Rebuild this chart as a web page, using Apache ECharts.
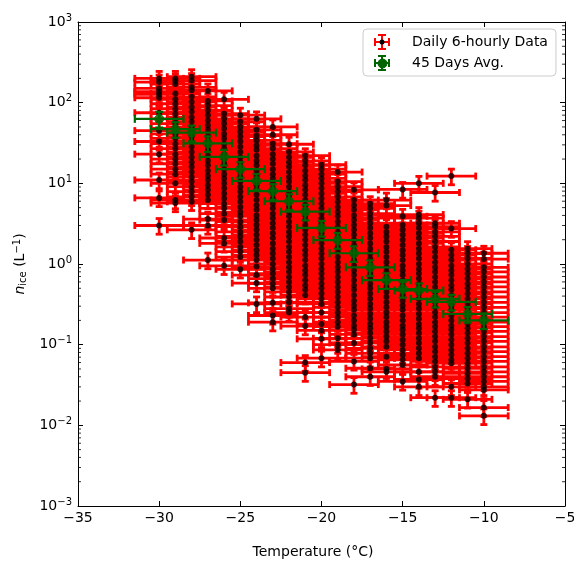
<!DOCTYPE html>
<html>
<head>
<meta charset="utf-8">
<script src="https://cdn.jsdelivr.net/npm/echarts@6/dist/echarts.min.js"></script>
<style>html,body{margin:0;padding:0;background:#fff;overflow:hidden;}#c{width:574px;height:561px;display:block;}</style>
</head>
<body>
<div id="c"></div>
<script>
// ---- data ----
const temperatures = [-30,-29,-28,-27,-26,-25,-24,-23,-22,-21,-20,-19,-18,-17,-16,-15,-14,-13,-12,-11,-10];
const valsM30 = [200, 180, 150, 137, 127, 115, 75, 45, 33, 23, 11, 6.6, 3.0];
const valsM29 = [200, 185, 170, 130, 110, 97, 84, 73, 63, 55, 48, 41, 36, 31, 27, 23, 20, 17.5, 15, 13, 10, 6.2, 5.7];
const valsM28 = [210, 188, 155, 143, 118, 102, 88, 77, 66, 58, 50, 43.5, 38, 33, 28.5, 24.5, 21, 18.3, 16, 13.8, 12, 10.5, 9.1, 7.9, 6.8, 5.9, 2.65];
const valsM27 = [140, 105, 92, 80, 70, 60, 52, 46, 39, 34, 29.5, 26, 22, 19, 16.7, 14.3, 12.4, 11, 9.5, 8.3, 7.2, 6.2, 3.6, 3.0, 1.12];
const valsM26 = [110, 73, 63, 55, 48, 41, 36, 31, 27, 23, 20, 17.5, 15, 13, 11.5, 10, 8.7, 7.5, 6.5, 5.6, 4.9, 4.2, 3.5, 2.1, 1.8, 0.95];
const valsM25 = [70, 58, 50, 43.5, 38, 33, 28.5, 24.5, 21, 18.3, 16, 13.8, 12, 10.5, 9.1, 7.9, 6.8, 5.9, 5.1, 4.4, 3.9, 3.35, 2.9, 2.5, 2.2, 1.9, 1.63, 1.42, 1.22, 0.86];
const valsM24 = [63, 46, 39, 34, 29.5, 26, 22, 19, 16.7, 14.3, 12.4, 11, 9.5, 8.3, 7.2, 6.2, 5.35, 4.7, 4.0, 3.5, 3.05, 2.65, 2.3, 2.0, 1.72, 1.48, 1.29, 1.12, 0.93, 0.73, 0.58, 0.32];
const valsM23 = [50, 40, 31, 27, 23, 20, 17.5, 15, 13, 11.5, 10, 8.7, 7.5, 6.5, 5.6, 4.9, 4.2, 3.7, 3.2, 2.8, 2.4, 2.1, 1.8, 1.55, 1.35, 1.17, 1.0, 0.87, 0.76, 0.66, 0.57, 0.5, 0.33, 0.23, 0.19];
const valsM22 = [30.5, 24.5, 21, 18.3, 16, 13.8, 12, 10.5, 9.1, 7.9, 6.8, 5.9, 5.1, 4.4, 3.9, 3.35, 2.9, 2.5, 2.2, 1.9, 1.63, 1.42, 1.22, 1.05, 0.91, 0.8, 0.69, 0.6, 0.52, 0.45, 0.39, 0.335, 0.28, 0.25];
const valsM21 = [22, 19, 16.7, 14.3, 12.4, 11, 9.5, 8.3, 7.2, 6.2, 5.35, 4.7, 4.0, 3.5, 3.05, 2.65, 2.3, 2.0, 1.72, 1.48, 1.29, 1.12, 0.95, 0.83, 0.73, 0.63, 0.54, 0.48, 0.41, 0.22, 0.17, 0.06, 0.045];
const valsM20 = [17, 15, 13, 11.5, 10, 8.7, 7.5, 6.5, 5.6, 4.9, 4.2, 3.7, 3.2, 2.8, 2.4, 2.1, 1.8, 1.55, 1.35, 1.17, 1.0, 0.87, 0.76, 0.66, 0.57, 0.5, 0.43, 0.37, 0.32, 0.25, 0.18, 0.15, 0.118, 0.068];
const valsM19 = [13.8, 10.5, 9.1, 7.9, 6.8, 5.9, 5.1, 4.4, 3.9, 3.35, 2.9, 2.5, 2.2, 1.9, 1.63, 1.42, 1.22, 1.05, 0.91, 0.8, 0.69, 0.6, 0.52, 0.45, 0.39, 0.335, 0.29, 0.25, 0.22, 0.19, 0.167, 0.12, 0.1, 0.086];
const valsM18 = [8.3, 6.2, 5.35, 4.7, 4.0, 3.5, 3.05, 2.65, 2.3, 2.0, 1.72, 1.48, 1.29, 1.12, 0.95, 0.83, 0.73, 0.63, 0.54, 0.48, 0.41, 0.35, 0.305, 0.27, 0.23, 0.2, 0.172, 0.153, 0.134, 0.105, 0.062, 0.032];
const valsM17 = [5.6, 4.9, 4.2, 3.7, 3.2, 2.8, 2.4, 2.1, 1.8, 1.55, 1.35, 1.17, 1.0, 0.87, 0.76, 0.66, 0.57, 0.5, 0.43, 0.37, 0.32, 0.28, 0.24, 0.21, 0.18, 0.16, 0.14, 0.12, 0.105, 0.09, 0.078, 0.068, 0.051, 0.04];
const valsM16 = [6.2, 5.3, 2.9, 2.5, 2.2, 1.9, 1.63, 1.42, 1.22, 1.05, 0.91, 0.8, 0.69, 0.6, 0.52, 0.45, 0.39, 0.335, 0.29, 0.25, 0.22, 0.19, 0.167, 0.146, 0.126, 0.11, 0.094, 0.071, 0.05, 0.046];
const valsM15 = [8.4, 3.9, 3.05, 2.65, 2.3, 2.0, 1.72, 1.48, 1.29, 1.12, 0.95, 0.83, 0.73, 0.63, 0.54, 0.48, 0.41, 0.35, 0.305, 0.27, 0.23, 0.2, 0.172, 0.153, 0.134, 0.115, 0.1, 0.086, 0.075, 0.065, 0.056, 0.035];
const valsM14 = [10, 4.1, 3.7, 3.2, 2.8, 2.4, 2.1, 1.8, 1.55, 1.35, 1.17, 1.0, 0.87, 0.76, 0.66, 0.57, 0.5, 0.43, 0.37, 0.32, 0.28, 0.24, 0.21, 0.18, 0.16, 0.14, 0.12, 0.105, 0.09, 0.078, 0.068, 0.046, 0.037, 0.03];
const valsM13 = [7.7, 3.2, 2.9, 2.5, 2.2, 1.9, 1.63, 1.42, 1.22, 1.05, 0.91, 0.8, 0.69, 0.6, 0.52, 0.45, 0.39, 0.335, 0.29, 0.25, 0.22, 0.19, 0.167, 0.146, 0.126, 0.11, 0.094, 0.082, 0.071, 0.062, 0.053, 0.046, 0.04, 0.022];
const valsM12 = [12.3, 2.75, 1.5, 1.29, 1.12, 0.95, 0.83, 0.73, 0.63, 0.54, 0.48, 0.41, 0.35, 0.305, 0.27, 0.23, 0.2, 0.172, 0.153, 0.134, 0.115, 0.1, 0.086, 0.075, 0.065, 0.059, 0.03, 0.022];
const valsM11 = [1.55, 1.35, 1.17, 1.0, 0.87, 0.76, 0.66, 0.57, 0.5, 0.43, 0.37, 0.32, 0.28, 0.24, 0.21, 0.18, 0.16, 0.14, 0.12, 0.105, 0.09, 0.078, 0.068, 0.059, 0.051, 0.044, 0.038, 0.033, 0.021];
const valsM10 = [1.36, 1.15, 0.91, 0.8, 0.69, 0.6, 0.52, 0.45, 0.39, 0.335, 0.29, 0.25, 0.22, 0.19, 0.167, 0.146, 0.126, 0.11, 0.094, 0.082, 0.071, 0.062, 0.053, 0.046, 0.04, 0.035, 0.03, 0.0275, 0.0166, 0.0131];
const dailyColumns = [valsM30, valsM29, valsM28, valsM27, valsM26, valsM25, valsM24, valsM23, valsM22, valsM21, valsM20, valsM19, valsM18, valsM17, valsM16, valsM15, valsM14, valsM13, valsM12, valsM11, valsM10];
const dailyTempErr = 1.5;      // deg C half-width
const dailyRelErr = 0.22;      // relative n_ice uncertainty

const avgValues = [63, 47, 42.5, 31.3, 21.3, 15, 10.7, 8.0, 6.0, 4.45, 2.8, 1.98, 1.36, 0.91, 0.63, 0.49, 0.47, 0.37, 0.34, 0.24, 0.20];
const avgTempErr = 1.5;
const avgRelErr = 0.22;

// ---- build series data ----
const dailyData = [];
dailyColumns.forEach((col, i) => col.forEach(v => dailyData.push([temperatures[i], v, dailyTempErr, v * dailyRelErr])));
const avgData = temperatures.map((t, i) => [t, avgValues[i], avgTempErr, avgValues[i] * avgRelErr]);
const minorTickVals = [];
for (let e = -3; e < 3; e++) for (let k = 2; k <= 9; k++) minorTickVals.push([-35, k * Math.pow(10, e)]);

const FONT = 'DejaVu Sans';
const RED = '#ff0000', GREEN = '#006400';

function errRenderer(color, lw, cap) {
  return function (params, api) {
    const t = api.value(0), v = api.value(1), xe = api.value(2), ye = api.value(3);
    const c = api.coord([t, v]);
    const l = api.coord([t - xe, v])[0], r = api.coord([t + xe, v])[0];
    const top = api.coord([t, v + ye])[1], bot = api.coord([t, v - ye])[1];
    const st = { stroke: color, lineWidth: lw, fill: null };
    const ln = (x1, y1, x2, y2) => ({ type: 'line', shape: { x1, y1, x2, y2 }, style: st });
    return { type: 'group', children: [
      ln(l, c[1], r, c[1]),
      ln(l, c[1] - cap, l, c[1] + cap),
      ln(r, c[1] - cap, r, c[1] + cap),
      ln(c[0], top, c[0], bot),
      ln(c[0] - cap, top, c[0] + cap, top),
      ln(c[0] - cap, bot, c[0] + cap, bot)
    ]};
  };
}

const sup = v => {
  const e = Math.round(Math.log10(v));
  return '{b|10}{s|' + (e < 0 ? '\u2212' + (-e) : e) + '}';
};

const el = document.getElementById('c');
const chart = echarts.init(el, null, { renderer: 'canvas', width: 574, height: 561 });
const crossIcon = 'path://M0,7L16,7L16,9L0,9ZM7,0L9,0L9,16L7,16ZM0,4L2,4L2,12L0,12ZM14,4L16,4L16,12L14,12ZM4,0L12,0L12,2L4,2ZM4,14L12,14L12,16L4,16Z';

chart.setOption({
  animation: false,
  backgroundColor: '#ffffff',
  grid: { left: 78, right: 9, top: 22, bottom: 55, containLabel: false, outerBoundsMode: 'none' },
  legend: {
    left: 363, top: 29, orient: 'vertical',
    padding: [5, 8, 5, 11], itemGap: 5, itemWidth: 16, itemHeight: 16,
    backgroundColor: 'rgba(255,255,255,0.8)', borderColor: '#cccccc', borderWidth: 1, borderRadius: 4,
    textStyle: { fontFamily: FONT, fontSize: 14, color: '#000', lineHeight: 16, padding: [0, 0, 0, 17] },
    data: [
      { name: 'Daily 6-hourly Data', icon: crossIcon, itemStyle: { color: RED } },
      { name: '45 Days Avg.', icon: crossIcon, itemStyle: { color: GREEN } }
    ],
    selectedMode: false
  },
  xAxis: [{
    type: 'value', min: -35, max: -5, interval: 5,
    name: 'Temperature (°C)', nameLocation: 'middle', nameGap: 39,
    nameTextStyle: { fontFamily: FONT, fontSize: 14, color: '#000', padding: [0, 17, 0, 0] },
    axisLine: { show: true, lineStyle: { color: '#000', width: 1 } },
    axisTick: { show: true, inside: true, length: 5, lineStyle: { color: '#000' } },
    axisLabel: { fontFamily: FONT, fontSize: 14, color: '#000', margin: 5,
      formatter: v => (v < 0 ? '\u2212' + (-v) : '' + v) },
    splitLine: { show: false }
  }, {
    type: 'value', min: -35, max: -5, interval: 5, position: 'top',
    axisLine: { show: true, lineStyle: { color: '#000', width: 1 } },
    axisTick: { show: true, inside: true, length: 5, lineStyle: { color: '#000' } },
    axisLabel: { show: false }, splitLine: { show: false }
  }],
  yAxis: [{
    type: 'log', logBase: 10, min: 1e-3, max: 1e3, interval: 1,
    name: '{i|n}{sub|ice}{t| (L}{sup|\u22121}{t|)}', nameLocation: 'middle', nameGap: 44, nameRotate: 90,
    nameTextStyle: { fontFamily: FONT, fontSize: 14, color: '#000',
      rich: {
        i: { fontFamily: FONT, fontSize: 14, fontStyle: 'italic', color: '#000' },
        sub: { fontFamily: FONT, fontSize: 10, color: '#000', padding: [6, 0, 0, 0] },
        t: { fontFamily: FONT, fontSize: 14, color: '#000' },
        sup: { fontFamily: FONT, fontSize: 10, color: '#000', padding: [0, 0, 7, 0] }
      } },
    axisLine: { show: true, lineStyle: { color: '#000', width: 1 } },
    axisTick: { show: true, inside: true, length: 5, lineStyle: { color: '#000' } },
    axisLabel: { margin: 6, formatter: sup,
      rich: {
        b: { fontFamily: FONT, fontSize: 14, color: '#000' },
        s: { fontFamily: FONT, fontSize: 10, color: '#000', padding: [0, 0, 8, 0] }
      } },
    splitLine: { show: false }
  }, {
    type: 'log', logBase: 10, min: 1e-3, max: 1e3, interval: 1, position: 'right',
    axisLine: { show: true, lineStyle: { color: '#000', width: 1 } },
    axisTick: { show: true, inside: true, length: 5, lineStyle: { color: '#000' } },
    axisLabel: { show: false }, splitLine: { show: false }
  }],
  graphic: [
    { type: 'circle', left: 379.5, top: 39.5, shape: { r: 2.5 }, style: { fill: '#000' }, z: 100 },
    { type: 'circle', left: 377.5, top: 58.5, shape: { r: 4.5 }, style: { fill: GREEN, stroke: GREEN, lineWidth: 1 }, z: 100 }
  ],
  series: [
    {
      name: 'Daily 6-hourly Data', type: 'custom', xAxisIndex: 0, yAxisIndex: 0,
      data: dailyData, encode: { x: 0, y: 1 }, renderItem: errRenderer(RED, 2.8, 3.5), z: 2, silent: true
    },
    {
      name: 'Daily 6-hourly Data', type: 'scatter', data: dailyData.map(d => [d[0], d[1]]),
      symbol: 'circle', symbolSize: 6, itemStyle: { color: '#000' }, z: 3, silent: true
    },
    {
      name: '45 Days Avg.', type: 'custom', data: avgData, encode: { x: 0, y: 1 },
      renderItem: errRenderer(GREEN, 2.2, 4), z: 4, silent: true
    },
    {
      name: '45 Days Avg.', type: 'scatter', data: avgData.map(d => [d[0], d[1]]),
      symbol: 'circle', symbolSize: 9, itemStyle: { color: GREEN, borderColor: GREEN, borderWidth: 1 }, z: 5, silent: true
    },
    {
      name: 'minorTicks', type: 'custom', data: minorTickVals, encode: { x: 0, y: 1 }, z: 6, silent: true,
      renderItem: function (params, api) {
        const p = api.coord([api.value(0), api.value(1)]);
        const q = api.coord([-5, api.value(1)]);
        const st = { stroke: '#000', lineWidth: 0.8 };
        return { type: 'group', children: [
          { type: 'line', shape: { x1: p[0], y1: p[1], x2: p[0] + 3, y2: p[1] }, style: st },
          { type: 'line', shape: { x1: q[0], y1: q[1], x2: q[0] - 3, y2: q[1] }, style: st }
        ]};
      }
    }
  ]
});
</script>
</body>
</html>
